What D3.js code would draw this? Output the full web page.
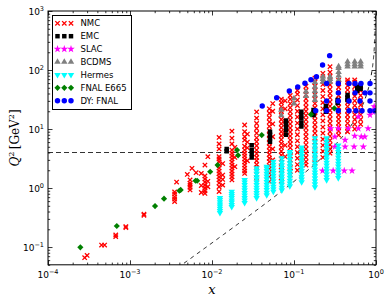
<!DOCTYPE html>
<html>
<head>
<meta charset="utf-8">
<script src="https://cdn.jsdelivr.net/npm/d3@7"></script>
<style>
body { margin: 0; background: #fff; }
svg text { font-family: "DejaVu Sans", sans-serif; }
</style>
</head>
<body>
<div id="chart"></div>
<script>
// data: [x, [Q2 values...]] per column
var nmc = [
	[2.8e-4, [0.066]],
	[3.0e-4, [0.072]],
	[4.5e-4, [0.108]],
	[4.9e-4, [0.108]],
	[6.7e-4, [0.15, 0.16]],
	[8.9e-4, [0.214, 0.222]],
	[1.48e-3, [0.345, 0.36]],
	[3.5e-3, [0.59, 0.65, 0.71, 0.79, 0.86]],
	[3.7e-3, [1.26]],
	[5.0e-3, [1.7]],
	[5.4e-3, [0.93, 1.03, 1.12, 1.21, 1.37]],
	[5.7e-3, [2.16]],
	[6.4e-3, [1.82]],
	[7.4e-3, [0.84, 1.1, 1.77]],
	[8.2e-3, [0.81, 0.9, 1.0, 1.12, 1.26, 1.42, 1.6, 2.45]],
	[8.9e-3, [1.05, 1.3, 3.4]],
	[0.0122, [0.87, 1.05, 1.22, 1.37, 1.54, 1.74, 1.94, 2.18, 2.45, 2.8, 3.1, 3.4, 4.6, 5.6, 7.2]],
	[0.0135, [1.12, 1.4, 1.66, 2.6]],
	[0.0175, [1.37, 1.55, 1.73, 1.94, 2.18, 2.45, 2.75, 3.1, 3.5, 3.9, 4.4, 5.6, 7.0, 9.2]],
	[0.019, [2.3, 3.3, 4.9]],
	[0.025, [1.77, 1.95, 2.18, 2.45, 2.75, 3.1, 3.5, 3.9, 4.4, 5.1, 6.5, 7.4, 9.0, 11.7]],
	[0.027, [2.9, 4.8, 6.0, 8.2]],
	[0.035, [1.48, 1.7, 1.95, 2.2, 2.5, 2.9, 3.3, 3.8, 4.4, 5.2, 6.1, 7.1, 8.5, 10.2, 12.4, 15.3, 19.5]],
	[0.05, [1.3, 1.55, 1.8, 2.1, 2.4, 2.8, 3.2, 3.7, 4.3, 5.0, 5.8, 6.8, 8.0, 9.4, 11.1, 13.2, 15.6, 18.5, 22]],
	[0.055, [3.0, 4.6, 7.4, 12.2, 20, 27]],
	[0.07, [1.3, 1.5, 1.75, 2.0, 2.3, 2.7, 3.1, 3.6, 4.2, 4.9, 5.7, 6.6, 7.7, 9.0, 10.5, 12.3, 14.5, 17, 20, 24, 28, 32]],
	[0.078, [3.4, 5.3, 8.4, 13.5, 22, 30]],
	[0.09, [1.66, 1.9, 2.2, 2.6, 3.0, 3.5, 4.1, 4.8, 5.6, 6.5, 7.6, 8.9, 10.4, 12.2, 14.3, 16.8, 19.7, 23, 27, 32, 37]],
	[0.11, [2.0, 2.5, 3.2, 4.0, 5.0, 6.3, 8.0, 10, 12.6, 16, 20, 25, 31, 39, 45]],
	[0.14, [2.45, 2.8, 3.3, 3.9, 4.6, 5.4, 6.4, 7.5, 8.8, 10.4, 12.2, 14.4, 17, 20, 23.5, 27.7, 32.6, 38.4, 45, 53]],
	[0.18, [2.65, 3.1, 3.7, 4.4, 5.2, 6.1, 7.2, 8.5, 10, 11.8, 14, 16.5, 19.5, 23, 27, 32, 38, 45, 53, 62, 73]],
	[0.225, [3.3, 4.2, 5.3, 6.7, 8.5, 10.8, 13.7, 17.4, 22, 28, 35.5, 45, 57, 72, 88]],
	[0.275, [3.9, 4.6, 5.4, 6.4, 7.6, 9.0, 10.6, 12.5, 14.8, 17.5, 20.7, 24.4, 28.8, 34, 40, 47, 56, 66, 78, 92, 114]],
	[0.35, [7.9, 9.2, 10.8, 12.6, 14.7, 17.2, 20, 23.4, 27.3, 32, 37, 43.5, 51, 59, 67]],
	[0.45, [9.0, 10.6, 12.5, 14.7, 17.3, 20.4, 24, 28, 33, 39, 46, 54, 63, 68]],
	[0.55, [10, 12, 14.5, 17.5, 21, 25, 30, 36, 43, 52, 62, 68]],
	[0.65, [12, 14.5, 17.5, 21, 25.5, 31, 37, 45, 54]]
];

var emc = [
	[0.0151, [4.2, 4.6]],
	[0.0305, [3.3, 3.8, 4.4, 5.3]],
	[0.051, [6.1, 7.0, 8.0, 9.0]],
	[0.08, [8.0, 9.5, 11, 12.5, 14]],
	[0.123, [11, 12.8, 15, 17, 19.7]],
	[0.173, [17.3, 19, 21]],
	[0.245, [19.7, 22, 24.5]],
	[0.34, [27.5, 31]],
	[0.45, [31, 34, 37.6]],
	[0.59, [44.5, 52]],
	[0.65, [48, 55]]
];

var slac = [
	[0.223, [1.96]], [0.30, [1.96]], [0.41, [1.96]], [0.51, [1.96]],
	[0.315, [5.0, 7.4]], [0.42, [5.0, 6.5]], [0.54, [5.0]], [0.70, [5.0]],
	[0.25, [5.6]], [0.55, [7.6]], [0.66, [7.4]], [0.73, [7.4]],
	[0.28, [10.2]], [0.347, [10.2]], [0.46, [10.2]], [0.61, [10.2, 16.2]], [0.80, [10.2]],
	[0.845, [17.3]], [0.91, [19.7]], [0.95, [24]]
];

var bcdms = [
	[0.07, [17, 21]],
	[0.1, [27, 33]],
	[0.14, [36, 43]],
	[0.18, [31, 37, 44, 52, 62]],
	[0.225, [63, 70, 77]],
	[0.275, [63, 70, 77]],
	[0.35, [68, 80, 92, 108, 115]],
	[0.45, [114, 125, 138]],
	[0.55, [114, 125, 138]],
	[0.65, [114, 125, 138]]
];

var hermes = [
	[0.0125, [0.38, 0.41, 0.45, 0.49, 0.53, 0.58, 0.63, 0.68]],
	[0.0174, [0.48, 0.52, 0.57, 0.62, 0.68, 0.74, 0.80, 0.87]],
	[0.025, [0.56, 0.62, 0.68, 0.75, 0.83, 0.92, 1.02, 1.13, 1.25, 1.37]],
	[0.035, [0.68, 0.75, 0.83, 0.92, 1.02, 1.13, 1.25, 1.4, 1.55, 1.75, 1.95, 2.18]],
	[0.0465, [0.76, 0.84, 0.93, 1.03, 1.14, 1.27, 1.41, 1.57, 1.75, 1.95, 2.15, 2.3]],
	[0.056, [0.87, 0.96, 1.06, 1.18, 1.31, 1.46, 1.62, 1.8, 2.0, 2.25, 2.5, 2.8]],
	[0.071, [0.92, 1.02, 1.14, 1.27, 1.42, 1.58, 1.76, 1.96, 2.2, 2.45, 2.75, 3.2]],
	[0.089, [1.08, 1.2, 1.34, 1.5, 1.68, 1.88, 2.1, 2.35, 2.65, 3.0, 3.4, 3.8, 4.1]],
	[0.124, [1.26, 1.4, 1.56, 1.75, 1.96, 2.2, 2.46, 2.75, 3.1, 3.5, 3.95, 4.4, 4.9]],
	[0.18, [1.04, 1.17, 1.31, 1.47, 1.65, 1.85, 2.08, 2.33, 2.6, 2.95, 3.3, 3.7, 4.2, 4.7, 5.3, 6.0, 7.0]],
	[0.25, [1.37, 1.53, 1.72, 1.93, 2.16, 2.42, 2.7, 3.05, 3.4, 3.8, 4.3, 4.8, 5.4, 6.1, 7.0]],
	[0.347, [1.48, 1.66, 1.86, 2.08, 2.33, 2.6, 2.92, 3.27, 3.65, 4.1, 4.6, 5.3]]
];

var e665 = [
	[2.48e-4, [0.099]], [6.9e-4, [0.227]], [2.02e-3, [0.495]], [2.6e-3, [0.66]],
	[4.0e-3, [0.90]], [4.15e-3, [0.93]], [6.3e-3, [1.33]], [6.6e-3, [1.33]],
	[9.5e-3, [1.89]], [0.0117, [2.45]], [0.0202, [4.4]], [0.0208, [3.58]],
	[0.0404, [7.9]], [0.161, [17.7]], [0.31, [22.4]]
];

var dyFnal = [
	[0.041, [24.5]], [0.0615, [33.9]], [0.0877, [44]], [0.111, [51.5]], [0.136, [59.5]],
	[0.161, [68.5]], [0.188, [77]], [0.223, [121.5]], [0.272, [175]],
	[0.184, [20.4]],
	[0.25, [20.4, 29.8, 59]],
	[0.347, [20.4, 29.8, 41, 59]],
	[0.469, [20.4, 29.8, 59]],
	[0.555, [41, 59]],
	[0.57, [20.4]],
	[0.638, [29.8]],
	[0.656, [59]],
	[0.675, [20.4]],
	[0.734, [41]],
	[0.845, [20.4, 29.8, 41, 59]],
	[0.973, [20.4]]
];

var seriesNames = ["NMC", "EMC", "SLAC", "BCDMS", "Hermes", "FNAL E665", "DY: FNAL"];
var xTickExp = [-4, -3, -2, -1, 0];
var yTickExp = [-1, 0, 1, 2, 3];
var W2cut = 12.5, Q2cut = 4, protonM2 = 0.88;

var width = 390, height = 304;
var svg = d3.select("#chart").append("svg")
	.attr("width", width).attr("height", height);

var x = d3.scaleLog().domain([1e-4, 1]).range([48, 376]);
var y = d3.scaleLog().domain([0.05, 1000]).range([264.8, 11]);

function flat(cols) {
	return cols.flatMap(function(c) { return c[1].map(function(q) { return [c[0], q]; }); });
}

// marker shapes
var sym = {
	cross: function() { var r = 2.2; return "M" + -r + "," + -r + "L" + r + "," + r + "M" + -r + "," + r + "L" + r + "," + -r; },
	square: d3.symbol(d3.symbolSquare, 20)(),
	star: d3.symbol(d3.symbolStar, 18)(),
	tri: d3.symbol(d3.symbolTriangle, 18)(),
	diamond: d3.symbol(d3.symbolSquare, 19)(),
	circle: d3.symbol(d3.symbolCircle, 23)()
};
var styles = [
	{ d: sym.cross(), fill: "none", stroke: "#ff0000", rot: 0, sw: 1.3 },
	{ d: sym.square, fill: "#000", stroke: "none", rot: 0, sw: 0 },
	{ d: sym.star, fill: "#ff00ff", stroke: "none", rot: 0, sw: 0 },
	{ d: sym.tri, fill: "#808080", stroke: "none", rot: 0, sw: 0 },
	{ d: sym.tri, fill: "#00ffff", stroke: "none", rot: 180, sw: 0 },
	{ d: sym.diamond, fill: "#008000", stroke: "none", rot: 45, sw: 0 },
	{ d: sym.circle, fill: "#0000ff", stroke: "none", rot: 0, sw: 0 }
];
var allSeries = [nmc, emc, slac, bcdms, hermes, e665, dyFnal];

svg.append("clipPath").attr("id", "plotclip")
	.append("rect").attr("x", 48).attr("y", 11).attr("width", 328).attr("height", 253.8);

var plot = svg.append("g").attr("clip-path", "url(#plotclip)");

// cut lines
plot.append("line")
	.attr("x1", x(1e-4)).attr("x2", x(1))
	.attr("y1", y(Q2cut)).attr("y2", y(Q2cut))
	.attr("stroke", "#333").attr("stroke-width", 1).attr("stroke-dasharray", "5,3");

var wx = d3.range(-2.5, -0.004, 0.01).map(function(l) { return Math.pow(10, l); })
	.concat(d3.range(0.90, 0.995, 0.001));
wx.sort(d3.ascending);
var wline = d3.line()
	.x(function(v) { return x(v); })
	.y(function(v) { return y((W2cut - protonM2) * v / (1 - v)); });
plot.append("path").datum(wx)
	.attr("d", wline)
	.attr("fill", "none").attr("stroke", "#000").attr("stroke-width", 0.9)
	.attr("stroke-dasharray", "4,4");

allSeries.forEach(function(s, i) {
	var st = styles[i];
	plot.append("g").selectAll("path")
		.data(flat(s))
		.enter().append("path")
		.attr("d", st.d)
		.attr("transform", function(d) { return "translate(" + x(d[0]) + "," + y(d[1]) + ") rotate(" + st.rot + ")"; })
		.attr("fill", st.fill)
		.attr("stroke", st.stroke)
		.attr("stroke-width", st.sw);
});

// axes: inward ticks on every side
var xMaj = xTickExp.map(function(e) { return Math.pow(10, e); });
var yMaj = yTickExp.map(function(e) { return Math.pow(10, e); });
var xMin = [], yMin = [];
for (var e = -4; e < 0; e++) for (var k = 2; k < 10; k++) xMin.push(k * Math.pow(10, e));
for (var e = -2; e < 3; e++) for (var k = 2; k < 10; k++) {
	var v = k * Math.pow(10, e);
	if (v >= 0.05 && v <= 1000) yMin.push(v);
}

function addAxis(axis, tx, ty) {
	svg.append("g").attr("transform", "translate(" + tx + "," + ty + ")")
		.call(axis)
		.call(function(g) { g.select(".domain").remove(); g.selectAll("line").attr("stroke", "#000").attr("stroke-width", 0.8); });
}
addAxis(d3.axisBottom(x).tickValues(xMaj).tickSize(-4.5).tickFormat(""), 0, 264.8);
addAxis(d3.axisBottom(x).tickValues(xMin).tickSize(-2.2).tickFormat(""), 0, 264.8);
addAxis(d3.axisTop(x).tickValues(xMaj).tickSize(-4.5).tickFormat(""), 0, 11);
addAxis(d3.axisTop(x).tickValues(xMin).tickSize(-2.2).tickFormat(""), 0, 11);
addAxis(d3.axisLeft(y).tickValues(yMaj).tickSize(-4.5).tickFormat(""), 48, 0);
addAxis(d3.axisLeft(y).tickValues(yMin).tickSize(-2.2).tickFormat(""), 48, 0);
addAxis(d3.axisRight(y).tickValues(yMaj).tickSize(-4.5).tickFormat(""), 376, 0);
addAxis(d3.axisRight(y).tickValues(yMin).tickSize(-2.2).tickFormat(""), 376, 0);

svg.append("rect").attr("x", 48).attr("y", 11).attr("width", 328).attr("height", 253.8)
	.attr("fill", "none").attr("stroke", "#000").attr("stroke-width", 1);

function powLabel(sel, e) {
	sel.append("tspan").text("10");
	sel.append("tspan").attr("dy", -4).attr("font-size", "6.5px").text(e < 0 ? "\u2212" + (-e) : e);
}
xTickExp.forEach(function(e) {
	var t = svg.append("text").attr("x", x(Math.pow(10, e))).attr("y", 278)
		.attr("text-anchor", "middle").attr("font-size", "9px").attr("fill", "#000");
	powLabel(t, e);
});
yTickExp.forEach(function(e) {
	var t = svg.append("text").attr("x", 44).attr("y", y(Math.pow(10, e)) + 3.5)
		.attr("text-anchor", "end").attr("font-size", "9px").attr("fill", "#000");
	powLabel(t, e);
});

// axis titles
var yl = svg.append("text")
	.attr("transform", "translate(19,138) rotate(-90)")
	.attr("text-anchor", "middle")
	.style("font-family", "'DejaVu Serif', serif").attr("font-size", "12px");
yl.append("tspan").attr("font-style", "italic").text("Q");
yl.append("tspan").attr("dy", -5).attr("font-size", "8px").text("2");
yl.append("tspan").attr("dy", 5).text("\u2009[GeV");
yl.append("tspan").attr("dy", -5).attr("font-size", "8px").text("2");
yl.append("tspan").attr("dy", 5).text("]");

svg.append("text").attr("x", 212).attr("y", 294).attr("text-anchor", "middle")
	.style("font-family", "'DejaVu Serif', serif").attr("font-style", "italic")
	.attr("font-size", "13px").text("x");

// legend
var leg = svg.append("g");
leg.append("rect").attr("x", 52.5).attr("y", 15.5).attr("width", 79).attr("height", 94)
	.attr("fill", "#fff").attr("stroke", "#000").attr("stroke-width", 1);
seriesNames.forEach(function(name, i) {
	var ly = 23.3 + i * 12.9;
	var st = styles[i];
	[57.5, 64.3, 71].forEach(function(lx) {
		leg.append("path").attr("d", st.d)
			.attr("transform", "translate(" + lx + "," + ly + ") rotate(" + st.rot + ")")
			.attr("fill", st.fill).attr("stroke", st.stroke).attr("stroke-width", st.sw);
	});
	leg.append("text").attr("x", 80.5).attr("y", ly + 3).attr("font-size", "8.5px").text(name);
});
</script>
</body>
</html>
